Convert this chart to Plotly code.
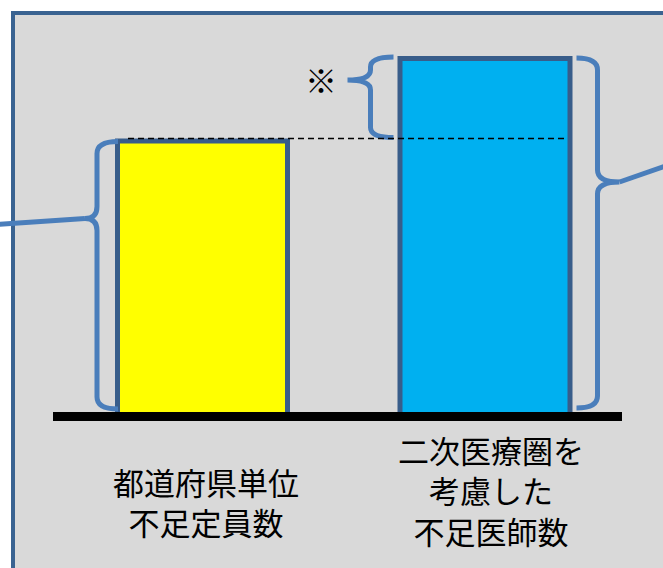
import plotly.graph_objects as go

# Data
categories = ['都道府県単位<br>不足定員数', '二次医療圏を<br>考慮した<br>不足医師数']
values = [100, 130]
bar_colors = ['#ffff00', '#00b0f0']

W, H = 663, 568
# pixel <-> data mapping (x: bar index, y: value)
X0, SX = 202.5, 282.5
Y0, SY = 416, 2.75
BAR_W = 170 / SX
OUTLINE = 5
BRACE = '#4a7ebb'


def to_x(px):
    return (px - X0) / SX


def to_y(py):
    return (Y0 - py) / SY


def px_of(x):
    return X0 + x * SX


def py_of(v):
    return Y0 - v * SY


def P(px, py):
    return f'{to_x(px):.5f},{to_y(py):.5f}'


def brace_path(xe, xv, xt, yt, ym, yb, r):
    # curly brace: ends at xe, spine at xv, tip at (xt, ym)
    return (f'M{P(xe, yt)} Q{P(xv, yt)} {P(xv, yt + r)} L{P(xv, ym - r)} '
            f'Q{P(xv, ym)} {P(xt, ym)} Q{P(xv, ym)} {P(xv, ym + r)} '
            f'L{P(xv, yb - r)} Q{P(xv, yb)} {P(xe, yb)}')


xs = list(range(len(values)))
fig = go.Figure()
fig.add_trace(go.Bar(
    x=xs, y=values, width=BAR_W,
    marker=dict(color=bar_colors, line=dict(color='#385d8a', width=OUTLINE)),
    hoverinfo='skip'
))

# outer edges of the bars in pixels
left_out = [px_of(i - BAR_W / 2) - OUTLINE / 2 for i in xs]
right_out = [px_of(i + BAR_W / 2) + OUTLINE / 2 for i in xs]
top_out = [py_of(v) - OUTLINE / 2 for v in values]

shapes = []
# frame
shapes.append(dict(type='rect', xref='paper', yref='paper',
                   x0=13 / W, x1=1.1, y0=-0.1, y1=1 - 13 / H,
                   line=dict(color='#3a6391', width=4), fillcolor='#d9d9d9',
                   layer='below'))

line_style = dict(color=BRACE, width=5)
# left brace (yellow bar)
yt, yb = top_out[0] + 3, Y0 - 7
ym = yt + 77
shapes.append(dict(type='path', xref='x', yref='y', layer='above',
                   path=brace_path(left_out[0] + 3, left_out[0] - 18, left_out[0] - 30, yt, ym, yb, 12),
                   line=line_style))
shapes.append(dict(type='line', xref='x', yref='y', layer='above',
                   x0=to_x(left_out[0] - 30), y0=to_y(ym), x1=to_x(-5), y1=to_y(ym + 6),
                   line=line_style))

# right brace (blue bar)
yt2, yb2 = top_out[1] + 2, Y0 - 8
ym2 = yt2 + 124
shapes.append(dict(type='path', xref='x', yref='y', layer='above',
                   path=brace_path(right_out[1] + 4, right_out[1] + 25, right_out[1] + 47, yt2, ym2, yb2, 12),
                   line=line_style))
shapes.append(dict(type='line', xref='x', yref='y', layer='above',
                   x0=to_x(right_out[1] + 47), y0=to_y(ym2), x1=to_x(700), y1=to_y(ym2 - 28),
                   line=line_style))

# small brace (difference)
yt3, yb3 = top_out[1] + 1, top_out[0] - 1
ym3 = yt3 + 23
shapes.append(dict(type='path', xref='x', yref='y', layer='above',
                   path=brace_path(left_out[1] - 4, left_out[1] - 27, left_out[1] - 50, yt3, ym3, yb3, 10),
                   line=line_style))

# dashed reference line at yellow top
shapes.append(dict(type='line', xref='x', yref='y', layer='above',
                   x0=to_x(left_out[0] + 13), x1=to_x(right_out[1] - 8),
                   y0=to_y(top_out[0]), y1=to_y(top_out[0]),
                   line=dict(color='black', width=1.5, dash='6px,4px')))

# baseline
shapes.append(dict(type='line', xref='x', yref='y', layer='above',
                   x0=to_x(53), x1=to_x(622), y0=to_y(Y0 + 0.5), y1=to_y(Y0 + 0.5),
                   line=dict(color='black', width=9)))

font = dict(family='Noto Sans CJK JP', size=31, color='black')
annotations = [
    dict(x=to_x(206), y=to_y(501), xref='x', yref='y', text=categories[0], showarrow=False,
         font=font, xanchor='center', yanchor='middle'),
    dict(x=to_x(491), y=to_y(490), xref='x', yref='y', text=categories[1], showarrow=False,
         font=font, xanchor='center', yanchor='middle'),
    dict(x=to_x(321), y=to_y(79), xref='x', yref='y', text='※', showarrow=False,
         font=dict(family='Noto Sans CJK JP', size=32, color='black'),
         xanchor='center', yanchor='middle'),
]

fig.update_layout(
    width=W, height=H,
    margin=dict(l=0, r=0, t=0, b=0),
    paper_bgcolor='white',
    plot_bgcolor='rgba(0,0,0,0)',
    showlegend=False,
    shapes=shapes,
    annotations=annotations,
    xaxis=dict(range=[to_x(0), to_x(W)], visible=False, fixedrange=True),
    yaxis=dict(range=[to_y(H), to_y(0)], visible=False, fixedrange=True),
)

# page body has a default margin; drop it so the figure sits at the window corner
fig.write_html('out.html', config={'displayModeBar': False},
               post_script="document.body.style.margin='0';document.body.style.overflow='hidden';")
